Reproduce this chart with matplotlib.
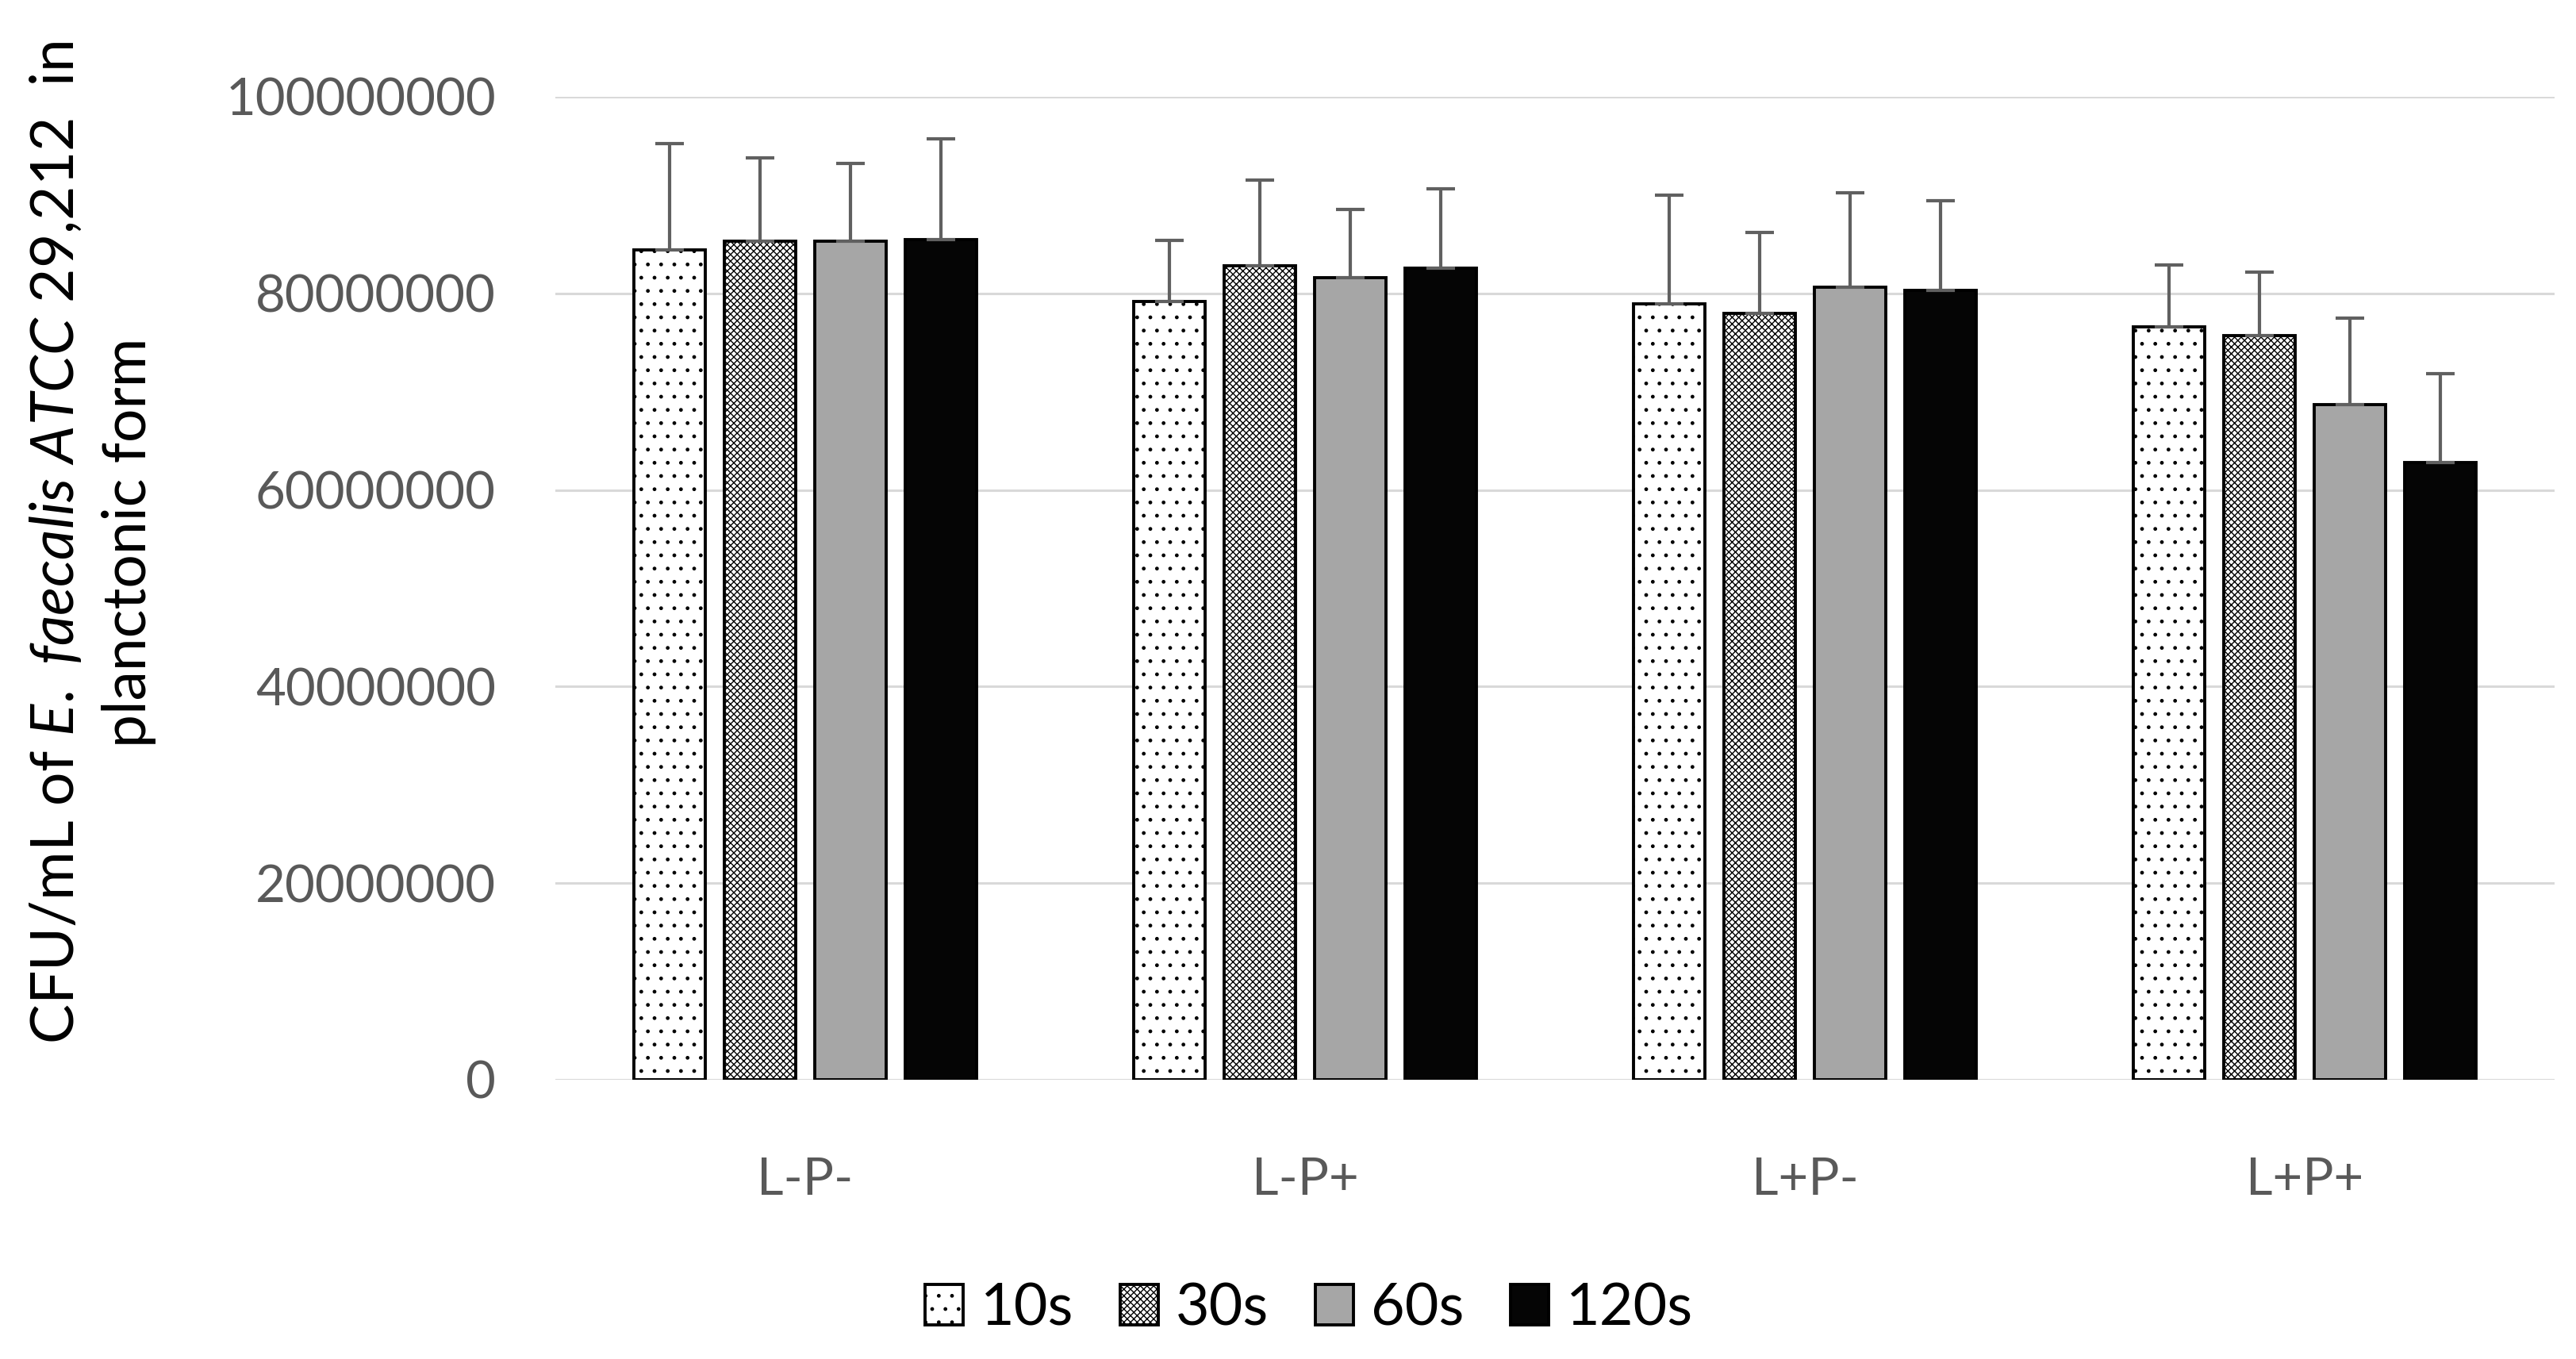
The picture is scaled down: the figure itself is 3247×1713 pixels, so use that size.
import numpy as np
import matplotlib
matplotlib.use("Agg")
import matplotlib.pyplot as plt
from matplotlib.ticker import FuncFormatter
from matplotlib.patches import Patch

plt.rcParams['font.family'] = ['Lato', 'DejaVu Sans']
plt.rcParams['mathtext.fontset'] = 'custom'
plt.rcParams['mathtext.rm'] = 'Lato'
plt.rcParams['mathtext.it'] = 'Lato:italic'

groups = ["L-P-", "L-P+", "L+P-", "L+P+"]
times = ["10s", "30s", "60s", "120s"]

# mean CFU/mL per group, one list per exposure time
cfu_10s = [84.4e6, 79.2e6, 78.9e6, 76.6e6]
cfu_30s = [85.3e6, 82.8e6, 78.0e6, 75.7e6]
cfu_60s = [85.3e6, 81.6e6, 80.6e6, 68.7e6]
cfu_120s = [85.5e6, 82.6e6, 80.3e6, 62.8e6]

# upper standard deviation
sd_10s = [10.8e6, 6.2e6, 11.1e6, 6.3e6]
sd_30s = [8.5e6, 8.7e6, 8.2e6, 6.5e6]
sd_60s = [7.9e6, 6.9e6, 9.6e6, 8.8e6]
sd_120s = [10.2e6, 8.0e6, 9.1e6, 9.0e6]

yticks = [0, 20000000, 40000000, 60000000, 80000000, 100000000]

means = [cfu_10s, cfu_30s, cfu_60s, cfu_120s]
sds = [sd_10s, sd_30s, sd_60s, sd_120s]
fills = ["white", "white", "#a6a6a6", "#050505"]
hatches = [".", "xxxx", "", ""]

fig = plt.figure(figsize=(32.48, 17.13), dpi=100)
ax = fig.add_axes([0.2155, 0.2055, 0.7759, 0.7233])

x = np.arange(len(groups))
w = 0.143
step = 0.181
for i in range(4):
    pos = x + (i - 1.5) * step
    ax.bar(pos, means[i], w, color=fills[i], edgecolor="black",
           linewidth=2.8, hatch=hatches[i], zorder=2)
    ax.errorbar(pos, means[i], yerr=[np.zeros(4), sds[i]], fmt="none",
                ecolor="#606060", elinewidth=3, capsize=13, capthick=3,
                zorder=3)

ax.set_xlim(-0.5, 3.5)
ax.set_ylim(0, 100000000)
ax.set_yticks(yticks)
ax.yaxis.set_major_formatter(FuncFormatter(lambda v, p: f"{int(v)}"))
ax.set_xticks(x)
ax.set_xticklabels(groups)
ax.tick_params(axis="y", length=0, pad=54, labelsize=47, labelcolor="#595959")
ax.tick_params(axis="x", length=0, pad=70, labelsize=47, labelcolor="#595959")
ax.grid(axis="y", color="#d9d9d9", linewidth=2.2)
ax.set_axisbelow(True)
for s in ax.spines.values():
    s.set_visible(False)

fig.text(0.036, 0.601,
         r"CFU/mL of $\it{E.\ faecalis\ ATCC\ 29{,}212}$  in" + "\nplanctonic form",
         rotation=90, ha="center", va="center", multialignment="center",
         fontsize=54, linespacing=1.4)

handles = [Patch(facecolor=fills[i], edgecolor="black", linewidth=2.8,
                 hatch=hatches[i]) for i in range(4)]
fig.legend(handles, times, loc="center", bbox_to_anchor=(0.508, 0.037),
           ncol=4, frameon=False, fontsize=53, handlelength=0.65,
           handleheight=0.68, handletextpad=0.3, columnspacing=0.8)

fig.savefig("out.png", dpi=100)
